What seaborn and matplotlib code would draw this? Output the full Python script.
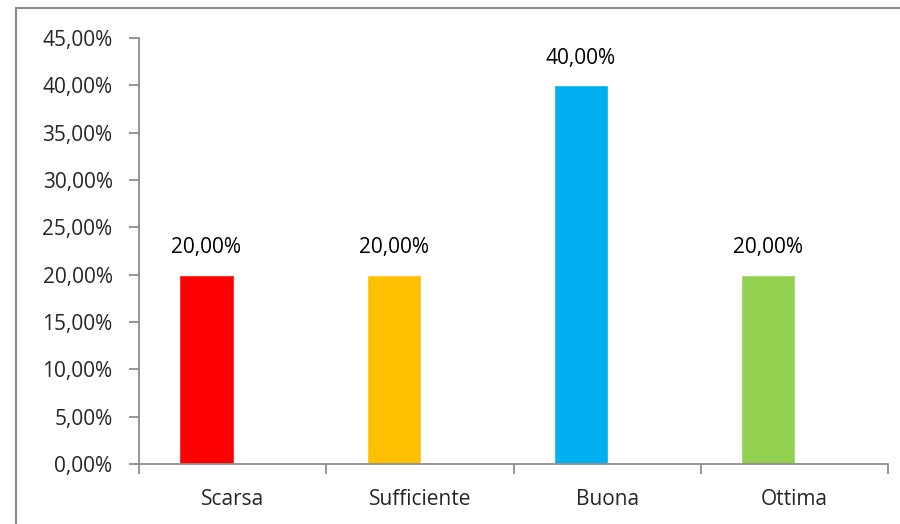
import matplotlib
matplotlib.use("Agg")
import matplotlib.pyplot as plt
import matplotlib.lines as mlines
import seaborn as sns
import pandas as pd
import numpy as np
from matplotlib.ticker import FuncFormatter, MultipleLocator

# dati del grafico
categorie = ["Scarsa", "Sufficiente", "Buona", "Ottima"]
valori = [0.20, 0.20, 0.40, 0.20]
colori = ["#FF0000", "#FFC000", "#00B0F0", "#92D050"]

sns.set_style("white")
plt.rcParams["font.family"] = ["Open Sans", "DejaVu Sans"]

df = pd.DataFrame({"Valutazione": categorie, "Percentuale": valori})

fig = plt.figure(figsize=(9, 5.24), dpi=100)
ax = fig.add_axes([139 / 900, 1 - 464 / 524, (888 - 139) / 900, (464 - 38) / 524])

sns.barplot(data=df, x="Valutazione", y="Percentuale", hue="Valutazione",
            palette=colori, width=0.29, legend=False, ax=ax, saturation=1)

# come in Excel le barre sono spostate a sinistra nella categoria
shift = -0.14
for p in ax.patches:
    p.set_x(p.get_x() + shift)

def fmt_pct(v, pos=None):
    return f"{v * 100:.2f}".replace(".", ",") + "%"

ax.set_ylim(0, 0.45)
ax.set_xlim(-0.5, len(categorie) - 0.5)
ax.yaxis.set_major_locator(MultipleLocator(0.05))
ax.yaxis.set_major_formatter(FuncFormatter(fmt_pct))
ax.set_xlabel("")
ax.set_ylabel("")

for i, v in enumerate(valori):
    ax.annotate(fmt_pct(v), (i + shift, v), xytext=(0, 12), textcoords="offset points",
                ha="center", va="bottom", fontsize=15, color="#000000")

gray = "#8C8C8C"
for s in ["top", "right"]:
    ax.spines[s].set_visible(False)
for s in ["left", "bottom"]:
    ax.spines[s].set_color(gray)
    ax.spines[s].set_linewidth(1.3)

# tick dell'asse x sui confini delle categorie
ax.set_xticks(np.arange(len(categorie)))
ax.set_xticklabels(categorie)
ax.set_xticks(np.arange(-0.5, len(categorie)), minor=True)
ax.tick_params(axis="x", which="major", bottom=True, length=0, labelsize=15, pad=18)
ax.tick_params(axis="x", which="minor", bottom=True, direction="out", length=7,
               color=gray, width=1.3)
ax.tick_params(axis="y", left=True, direction="out", length=7, color=gray, width=1.3,
               labelsize=15, pad=12)

# bordo del grafico
fig.add_artist(mlines.Line2D([16 / 900, 1], [1 - 8 / 524, 1 - 8 / 524],
                             color=gray, lw=1.5, transform=fig.transFigure))
fig.add_artist(mlines.Line2D([16 / 900, 16 / 900], [0, 1 - 8 / 524],
                             color=gray, lw=1.5, transform=fig.transFigure))

fig.savefig("out.png", dpi=100)
